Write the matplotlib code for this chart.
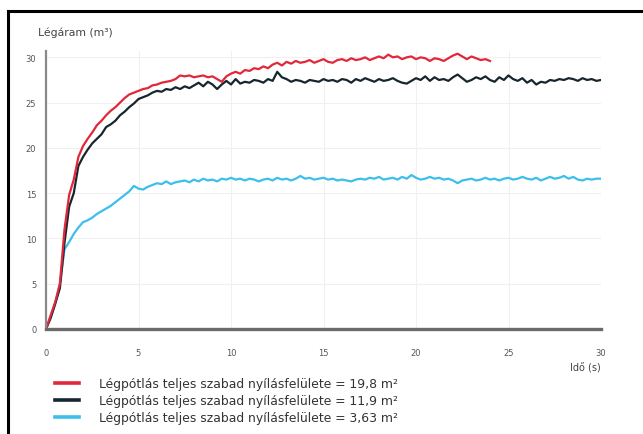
import numpy as np
import matplotlib
matplotlib.use("Agg")
import matplotlib.pyplot as plt
from matplotlib.lines import Line2D

# time base, 0.25 s steps
t_red = np.arange(0, 24.01, 0.25)
t_full = np.arange(0, 30.01, 0.25)

# 19,8 m2 (red), 0 .. 24 s
red = [0.0, 1.5, 3.0, 5.0, 11.0, 14.8, 16.5, 19.0, 20.2, 21.0, 21.7, 22.5,
       23.0, 23.6, 24.1, 24.5, 25.0, 25.5, 25.9, 26.1, 26.3, 26.5, 26.6, 26.9,
       27.0, 27.2, 27.3, 27.4, 27.6, 28.0, 27.9, 28.0, 27.8, 27.9, 28.0, 27.8,
       27.9, 27.6, 27.3, 27.9, 28.2, 28.4, 28.2, 28.6, 28.5, 28.8, 28.7, 29.0,
       28.8, 29.2, 29.4, 29.1, 29.5, 29.3, 29.6, 29.4, 29.5, 29.7, 29.4, 29.6,
       29.8, 29.5, 29.4, 29.7, 29.8, 29.6, 29.9, 29.7, 29.8, 30.0, 29.7, 29.9,
       30.1, 29.9, 30.3, 30.0, 30.1, 29.8, 30.0, 30.1, 29.8, 30.0, 29.9, 29.6,
       29.9, 29.8, 29.6, 29.9, 30.2, 30.4, 30.1, 29.8, 30.1, 29.9, 29.7, 29.8,
       29.6]

# 11,9 m2 (black), 0 .. 30 s
black = [0.0, 1.2, 2.8, 4.5, 9.5, 13.5, 15.0, 18.0, 19.0, 19.8, 20.5, 21.0,
         21.5, 22.3, 22.6, 23.0, 23.6, 24.0, 24.5, 24.9, 25.4, 25.6, 25.8, 26.1,
         26.3, 26.2, 26.5, 26.4, 26.7, 26.5, 26.8, 26.6, 26.9, 27.2, 26.8, 27.3,
         27.0, 26.5, 27.0, 27.4, 27.0, 27.6, 27.1, 27.3, 27.2, 27.5, 27.4, 27.2,
         27.6, 27.4, 28.4, 27.8, 27.6, 27.3, 27.5, 27.4, 27.2, 27.5, 27.4, 27.3,
         27.6, 27.4, 27.5, 27.3, 27.6, 27.5, 27.2, 27.6, 27.4, 27.7, 27.5, 27.3,
         27.6, 27.4, 27.5, 27.7, 27.4, 27.2, 27.1, 27.4, 27.7, 27.5, 27.9, 27.4,
         27.8, 27.5, 27.6, 27.4, 27.8, 28.1, 27.7, 27.3, 27.5, 27.8, 27.6, 27.9,
         27.5, 27.3, 27.8, 27.5, 28.0, 27.6, 27.4, 27.7, 27.2, 27.5, 27.0, 27.3,
         27.2, 27.5, 27.4, 27.6, 27.5, 27.7, 27.6, 27.4, 27.7, 27.5, 27.6, 27.4,
         27.5]

# 3,63 m2 (cyan), 0 .. 30 s
cyan = [0.0, 1.3, 2.8, 5.0, 8.8, 9.6, 10.5, 11.2, 11.8, 12.0, 12.3, 12.7,
        13.0, 13.3, 13.6, 14.0, 14.4, 14.8, 15.2, 15.8, 15.5, 15.4, 15.7, 15.9,
        16.1, 16.0, 16.3, 16.0, 16.2, 16.3, 16.4, 16.2, 16.5, 16.3, 16.6, 16.4,
        16.5, 16.3, 16.6, 16.5, 16.7, 16.5, 16.6, 16.4, 16.6, 16.5, 16.3, 16.5,
        16.6, 16.4, 16.7, 16.5, 16.6, 16.4, 16.6, 16.9, 16.6, 16.7, 16.5, 16.6,
        16.7, 16.5, 16.6, 16.4, 16.5, 16.4, 16.3, 16.5, 16.6, 16.5, 16.7, 16.6,
        16.8, 16.5, 16.6, 16.7, 16.5, 16.8, 16.6, 17.0, 16.7, 16.5, 16.6, 16.8,
        16.6, 16.7, 16.5, 16.6, 16.4, 16.1, 16.4, 16.5, 16.6, 16.4, 16.5, 16.7,
        16.5, 16.6, 16.4, 16.6, 16.7, 16.5, 16.6, 16.8, 16.6, 16.5, 16.7, 16.4,
        16.6, 16.8, 16.6, 16.7, 16.9, 16.6, 16.8, 16.5, 16.4, 16.6, 16.5, 16.6,
        16.6]

labels = ["Légpótlás teljes szabad nyílásfelülete = 19,8 m²",
          "Légpótlás teljes szabad nyílásfelülete = 11,9 m²",
          "Légpótlás teljes szabad nyílásfelülete = 3,63 m²"]
colors = ["#e2273b", "#17262e", "#3cbfeb"]

fig = plt.figure(figsize=(6.43, 4.35), dpi=100)
ax = fig.add_axes([46 / 643, 1 - 330 / 435, 555 / 643, 278 / 435])

ax.plot(t_full, cyan, color=colors[2], lw=1.6)
ax.plot(t_full, black, color=colors[1], lw=1.6)
ax.plot(t_red, red, color=colors[0], lw=1.6)

ax.set_xlim(0, 30)
ax.set_ylim(0, 30.7)
ax.set_xticks(range(0, 31, 5))
ax.set_yticks(range(0, 31, 5))
ax.grid(True, color="#f0f0f0", lw=0.8)
ax.set_axisbelow(True)
for s in ["top", "right"]:
    ax.spines[s].set_visible(False)
ax.spines["left"].set_color("#8a8a8a")
ax.spines["left"].set_linewidth(1.6)
ax.spines["bottom"].set_color("#6a6a6a")
ax.spines["bottom"].set_linewidth(2.4)
ax.tick_params(length=0, labelsize=6, colors="#555555")
ax.tick_params(axis="x", pad=14)
ax.tick_params(axis="y", pad=7)

fig.text(38 / 643, 1 - 33 / 435, "Légáram (m³)", fontsize=7.8, color="#444444",
         va="center", ha="left")
fig.text(601 / 643, 1 - 368 / 435, "Idő (s)", fontsize=7, color="#444444",
         va="center", ha="right")

handles = [Line2D([], [], color=c, lw=2.6) for c in colors]
fig.legend(handles, labels, loc="upper left", bbox_to_anchor=(44 / 643, 1 - 367 / 435),
           frameon=False, fontsize=8.9, handlelength=1.95, handletextpad=1.6,
           labelspacing=0.32, labelcolor="#333333")

# outer frame
fig.add_artist(Line2D([8 / 643, 8 / 643], [0, 1 - 12 / 435], color="black", lw=2.2,
                      transform=fig.transFigure))
fig.add_artist(Line2D([8 / 643, 1], [1 - 12 / 435, 1 - 12 / 435], color="black", lw=2.2,
                      transform=fig.transFigure))

fig.savefig("out.png", dpi=100)
